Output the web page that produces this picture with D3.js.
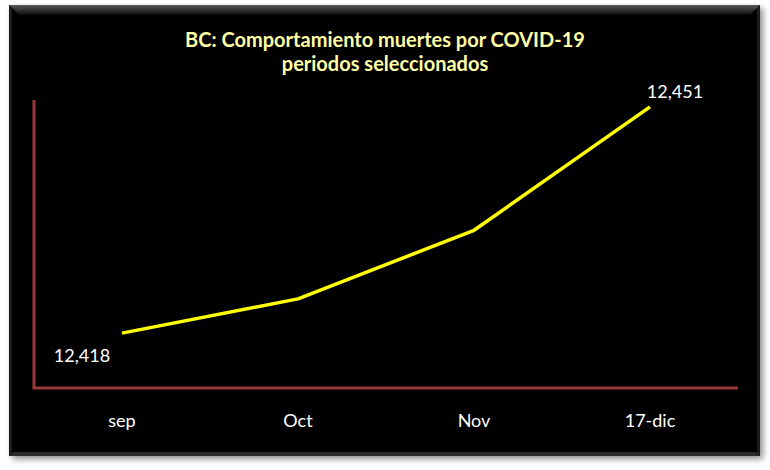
<!DOCTYPE html>
<meta charset="utf-8">
<html>
<head>
<title>BC muertes COVID-19</title>
<script src="https://cdn.jsdelivr.net/npm/d3@7"></script>
<style>
  body { margin: 0; background: #fff; }
  svg { display: block; }
  .title { font-family: Lato, 'Open Sans', sans-serif; font-weight: 700; font-size: 20px; fill: #ffffa6; }
  .tick-label, .val-label { font-family: Lato, 'Open Sans', sans-serif; font-size: 18px; fill: #fff; }
</style>
</head>
<body>
<svg width="770" height="470"></svg>
<script>
// data
var periods = ["sep", "Oct", "Nov", "17-dic"];
var deaths = [12418, 12423, 12433, 12451];
var shownLabels = ["12,418", null, null, "12,451"];
var titleLines = ["BC: Comportamiento muertes por COVID-19", "periodos seleccionados"];

var svg = d3.select("svg");

// panel with bevel + shadow
var defs = svg.append("defs");
var sh = defs.append("filter").attr("id", "shadow").attr("x", "-5%").attr("y", "-5%").attr("width", "115%").attr("height", "115%");
sh.append("feGaussianBlur").attr("in", "SourceAlpha").attr("stdDeviation", 3);
sh.append("feOffset").attr("dx", 3).attr("dy", 3).attr("result", "b");
sh.append("feComponentTransfer").append("feFuncA").attr("type", "linear").attr("slope", 0.45);
var m = sh.append("feMerge");
m.append("feMergeNode");
m.append("feMergeNode").attr("in", "SourceGraphic");

var topGrad = defs.append("linearGradient").attr("id", "topg").attr("x1", 0).attr("y1", 0).attr("x2", 0).attr("y2", 1);
topGrad.append("stop").attr("offset", "0%").attr("stop-color", "#5a5a5a");
topGrad.append("stop").attr("offset", "100%").attr("stop-color", "#0a0a0a");

var px0 = 9, py0 = 5, px1 = 760, py1 = 456;
svg.append("rect").attr("x", px0).attr("y", py0).attr("width", px1 - px0).attr("height", py1 - py0)
    .attr("fill", "#050505").attr("filter", "url(#shadow)");
// top bevel
svg.append("path")
    .attr("d", "M" + px0 + "," + py0 + "L" + px1 + "," + py0 + "L" + (px1 - 10) + "," + (py0 + 10) + "L" + (px0 + 10) + "," + (py0 + 10) + "Z")
    .attr("fill", "url(#topg)");
// bottom bevel
svg.append("path")
    .attr("d", "M" + px0 + "," + py1 + "L" + px1 + "," + py1 + "L" + (px1 - 4) + "," + (py1 - 4) + "L" + (px0 + 4) + "," + (py1 - 4) + "Z")
    .attr("fill", "#2a2a2a");
// side bevels
svg.append("path")
    .attr("d", "M" + px0 + "," + py0 + "L" + (px0 + 3) + "," + (py0 + 3) + "L" + (px0 + 3) + "," + (py1 - 3) + "L" + px0 + "," + py1 + "Z")
    .attr("fill", "#1c1c1c");
svg.append("path")
    .attr("d", "M" + px1 + "," + py0 + "L" + (px1 - 3) + "," + (py0 + 3) + "L" + (px1 - 3) + "," + (py1 - 3) + "L" + px1 + "," + py1 + "Z")
    .attr("fill", "#1c1c1c");

// title
svg.append("text").attr("class", "title").attr("text-anchor", "middle")
  .selectAll("tspan").data(titleLines).enter().append("tspan")
    .attr("x", 385).attr("y", function(d, i) { return 47 + i * 24; })
    .text(function(d) { return d; });

// scales
var x = d3.scaleBand().domain(periods).range([34, 738]);
var y = d3.scaleLinear().domain([12410, 12452]).range([388, 100]);

var axisColor = "#993636";
svg.append("line").attr("x1", 34).attr("x2", 34).attr("y1", y.range()[1]).attr("y2", y.range()[0])
    .attr("stroke", axisColor).attr("stroke-width", 3);
svg.append("line").attr("x1", 32.5).attr("x2", x.range()[1]).attr("y1", 388).attr("y2", 388)
    .attr("stroke", axisColor).attr("stroke-width", 3);

// category labels
var xAxis = d3.axisBottom(x).tickSize(0).tickPadding(0);
var gx = svg.append("g").attr("transform", "translate(0,388)").call(xAxis);
gx.select(".domain").remove();
gx.selectAll("text").attr("class", "tick-label").attr("dy", null).attr("y", 39)
    .attr("fill", null).attr("font-size", null).attr("font-family", null);

// line
var line = d3.line()
    .x(function(d, i) { return x(periods[i]) + x.bandwidth() / 2; })
    .y(function(d) { return y(d); });

svg.append("path").datum(deaths)
    .attr("d", line)
    .attr("fill", "none")
    .attr("stroke", "#ffff00")
    .attr("stroke-width", 3.5)
    .attr("stroke-linejoin", "round");

// value labels
svg.selectAll(".val-label").data(deaths.filter(function(d, i) { return shownLabels[i]; }))
  .enter().append("text")
    .attr("class", "val-label")
    .attr("text-anchor", "middle")
    .attr("x", function(d) {
      var i = deaths.indexOf(d);
      return x(periods[i]) + x.bandwidth() / 2 + (i === 0 ? -40 : 25);
    })
    .attr("y", function(d) {
      var i = deaths.indexOf(d);
      return y(d) + (i === 0 ? 29 : -9);
    })
    .text(function(d) { return shownLabels[deaths.indexOf(d)]; });
</script>
</body>
</html>
